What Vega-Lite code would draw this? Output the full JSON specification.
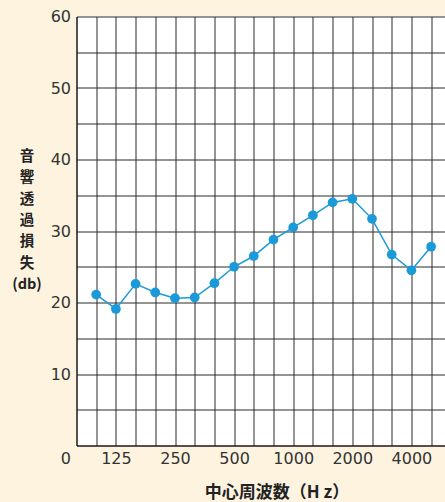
{
  "$schema": "https://vega.github.io/schema/vega-lite/v6.json",
  "autosize": "none",
  "width": 368.5,
  "height": 429,
  "padding": {"left": 76.5, "top": 16.5, "right": 0, "bottom": 56.5},
  "background": "#fdf3df",
  "view": {"fill": "white", "stroke": null},
  "config": {"font": "Noto Sans CJK JP"},
  "data": {"values": [
    {"freq": "100", "tl": 21.1},
    {"freq": "125", "tl": 19.1},
    {"freq": "160", "tl": 22.6},
    {"freq": "200", "tl": 21.4},
    {"freq": "250", "tl": 20.6},
    {"freq": "315", "tl": 20.7},
    {"freq": "400", "tl": 22.7},
    {"freq": "500", "tl": 25.0},
    {"freq": "630", "tl": 26.5},
    {"freq": "800", "tl": 28.8},
    {"freq": "1000", "tl": 30.5},
    {"freq": "1250", "tl": 32.2},
    {"freq": "1600", "tl": 34.0},
    {"freq": "2000", "tl": 34.5},
    {"freq": "2500", "tl": 31.7},
    {"freq": "3150", "tl": 26.7},
    {"freq": "4000", "tl": 24.5},
    {"freq": "5000", "tl": 27.8}
  ]},
  "mark": {"type": "line", "color": "#1a9ad8", "strokeWidth": 1.5, "point": {"filled": true, "size": 95, "color": "#1a9ad8", "opacity": 1}},
  "encoding": {
    "x": {
      "field": "freq", "type": "ordinal",
      "scale": {"type": "point", "padding": 0, "range": [0, 374.3], "domain": ["0","100","125","160","200","250","315","400","500","630","800","1000","1250","1600","2000","2500","3150","4000","5000","6300"]},
      "axis": {
        "labelAngle": 0,
        "labelExpr": "indexof(['0','125','250','500','1000','2000','4000'], datum.value) >= 0 ? datum.value : ''",
        "labelFont": "DejaVu Sans", "labelFontSize": 16, "labelColor": "#333",
        "labelPadding": 5,
        "labelAlign": {"condition": {"test": "datum.value == '0'", "value": "right"}, "value": "center"},
        "labelOffset": {"condition": {"test": "datum.value == '0'", "value": -6}, "value": 0},
        "ticks": false, "domainColor": "#111", "domainWidth": 1,
        "grid": true, "gridColor": "#2a2a2a", "gridWidth": 1, "gridOpacity": 1,
        "title": "中心周波数（H z）", "titleFontSize": 17, "titleFontWeight": "bold", "titleColor": "#222",
        "titleX": 200, "titleY": 47, "titleBaseline": "middle", "titleAlign": "center"
      }
    },
    "y": {
      "field": "tl", "type": "quantitative",
      "scale": {"domain": [0, 60], "nice": false, "zero": true},
      "axis": {
        "values": [0,5,10,15,20,25,30,35,40,45,50,55,60],
        "labelExpr": "datum.value % 10 == 0 && datum.value > 0 ? datum.value : ''",
        "labelFont": "DejaVu Sans", "labelFontSize": 16, "labelColor": "#333", "labelPadding": 6,
        "ticks": false, "domainColor": "#111", "domainWidth": 1,
        "grid": true, "gridColor": "#2a2a2a", "gridWidth": 1, "gridOpacity": 1,
        "title": ["音","響","透","過","損","失","(db)"],
        "titleFontSize": 14.5, "titleFontWeight": "bold", "titleColor": "#222",
        "titleAngle": 0, "titleAlign": "center", "titleBaseline": "top", "titleLineHeight": 21.3,
        "titleX": -50, "titleY": 133
      }
    }
  }
}
